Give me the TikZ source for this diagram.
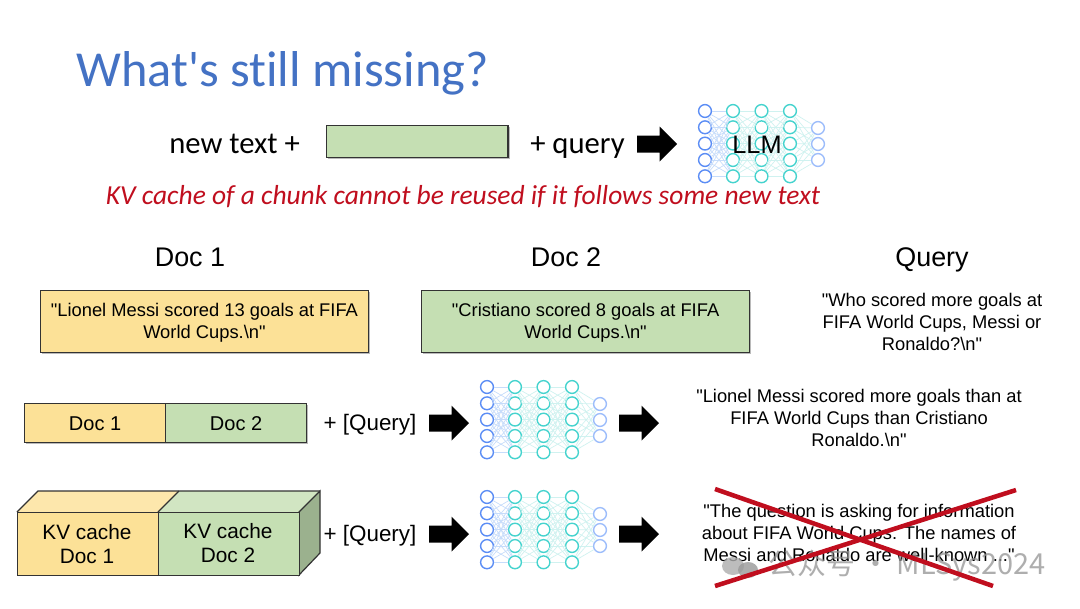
\documentclass[tikz,border=0pt]{standalone}
\usepackage{fontspec}
\setmainfont{Liberation Sans}[Ligatures=TeXOff]
\newfontfamily\carl{Carlito}[Ligatures=NoCommon]
\newfontfamily\cjkf{Noto Sans CJK SC}
\usetikzlibrary{shadows}
\definecolor{titleblue}{HTML}{4472C4}
\definecolor{docyellow}{HTML}{FCE197}
\definecolor{docgreen}{HTML}{C5DFB3}
\definecolor{sideg}{HTML}{9BB18E}
\definecolor{crossred}{HTML}{C00E1E}
\definecolor{nodeblue}{HTML}{5B8DF5}
\definecolor{nodeteal}{HTML}{45D3CE}
\definecolor{nodepale}{HTML}{9DBDFB}
\definecolor{edgeblue}{HTML}{C6DCFB}
\definecolor{edgeteal}{HTML}{CFF2F0}
\tikzset{
  x=0.75pt,y=-0.75pt,
  softshadow/.style={drop shadow={shadow xshift=1.2pt,shadow yshift=-1.2pt,fill=black!45,opacity=.6}},
  plainbox/.style={draw=black!80,line width=0.9pt,inner sep=0pt,anchor=north west},
  docbox/.style={plainbox,softshadow},
  txt/.style={inner sep=0pt,align=center,font=\fontsize{13.75}{16.6}\selectfont},
  txtb/.style={txt,font=\fontsize{15}{17.5}\selectfont},
  txtk/.style={txt,font=\fontsize{15.6}{17.5}\selectfont},
  txtq/.style={txt,font=\fontsize{16.8}{19}\selectfont},
  head/.style={inner sep=0pt,font=\fontsize{20.2}{23}\selectfont},
  carltext/.style={inner sep=0pt,anchor=base west,font=\carl\fontsize{23}{26}\selectfont},
  bigarrow/.style={fill=black,draw=none},
  nc/.style={circle,minimum size=9.6pt,inner sep=0pt,line width=1.05pt,draw=#1},
  nedge/.style={draw=#1,line width=0.5pt},
}
\newcommand{\nnet}[3]{%
  \foreach \c/\cx/\col in {a/0/nodeblue,b/28/nodeteal,c/56.5/nodeteal,d/85/nodeteal}{
    \foreach \r/\ry in {1/0,2/16.3,3/32.6,4/49,5/65.3}{
      \node[nc=\col] (#1\c\r) at (#2+\cx,#3+\ry) {};
    }
  }
  \foreach \r/\ry in {1/17,2/33,3/49}{
    \node[nc=nodepale] (#1e\r) at (#2+113,#3+\ry) {};
  }
  \foreach \p/\q/\col in {a/b/edgeblue,b/c/edgeteal,c/d/edgeteal}{
    \foreach \i in {1,...,5}{\foreach \j in {1,...,5}{
      \draw[nedge=\col] (#1\p\i) -- (#1\q\j);
    }}
  }
  \foreach \i in {1,...,5}{\foreach \j in {1,2,3}{
    \draw[nedge=edgeteal] (#1d\i) -- (#1e\j);
  }}
}
\newcommand{\barrow}[2]{%
  \fill[bigarrow] (#1,#2-8.5) -- (#1+22.5,#2-8.5) -- (#1+22.5,#2-17.5) -- (#1+40,#2) -- (#1+22.5,#2+17.5) -- (#1+22.5,#2+8.5) -- (#1,#2+8.5) -- cycle;
}
\begin{document}
\begin{tikzpicture}
\useasboundingbox (0,0) rectangle (1080,608);
\fill[white] (0,0) rectangle (1080,608);

\node[anchor=west,inner sep=0pt,text=titleblue,font=\carl\fontsize{37.8}{40}\selectfont] (title) at (76,73) {What's still missing?};

\node[carltext] (newtext) at (169,153.5) {new text +};
\node[docbox,fill=docgreen,minimum width=136pt,minimum height=24pt] (blank) at (326,125) {};
\node[carltext] (plusq) at (530,153.5) {+ query};
\barrow{637}{144}
\nnet{p}{705}{111}
\node[inner sep=0pt,font=\fontsize{19}{22}\selectfont] (llm) at (757,144.5) {LLM};
\node[inner sep=0pt,text=crossred,font=\carl\itshape\fontsize{20.6}{24}\selectfont] (warn) at (463,197) {KV cache of a chunk cannot be reused if it follows some new text};

\node[head] (h1) at (190,257) {Doc 1};
\node[head] (h2) at (566,257) {Doc 2};
\node[head] (h3) at (932,259.5) {Query};

\node[docbox,fill=docyellow,minimum width=246.5pt,minimum height=47pt] (d1) at (39.5,289.5) {};
\node[txt] (d1t) at ([yshift=-0.7pt]d1.center) {"Lionel Messi scored 13 goals at FIFA\\World Cups.\textbackslash n"};
\node[docbox,fill=docgreen,minimum width=246pt,minimum height=47pt] (d2) at (421,289.5) {};
\node[txt] (d2t) at ([yshift=-0.7pt]d2.center) {"Cristiano scored 8 goals at FIFA\\World Cups.\textbackslash n"};
\node[txt] (q) at (932,322) {"Who scored more goals at\\FIFA World Cups, Messi or\\Ronaldo?\textbackslash n"};

\node[docbox,fill=docyellow,minimum width=105.75pt,minimum height=29.25pt] (r1) at (24,403) {};
\node[docbox,fill=docgreen,minimum width=105.75pt,minimum height=29.25pt] (r2) at (165,403) {};
\node[txtb] (r1t) at ([yshift=-0.7pt]r1.center) {Doc 1};
\node[txtb] (r2t) at ([yshift=-0.7pt]r2.center) {Doc 2};
\node[txtq] (pq1) at (370,425) {+ [Query]};
\barrow{429}{423}
\nnet{m}{487}{387}
\barrow{619}{423}
\node[txt] (ans) at (859,418) {"Lionel Messi scored more goals than at\\FIFA World Cups than Cristiano\\Ronaldo.\textbackslash n"};

% 3-D KV cache bars
\coordinate (t1) at (17,512);
\coordinate (t2) at (158,512);
\coordinate (t3) at (299,512);
\coordinate (b3) at (299,575);
\coordinate (u1) at (38,491);
\coordinate (u2) at (179,491);
\coordinate (u3) at (320,491);
\coordinate (l3) at (320,553);
\fill[docyellow!80!white] (t1) -- (u1) -- (u2) -- (t2) -- cycle;
\fill[docgreen!80!white] (t2) -- (u2) -- (u3) -- (t3) -- cycle;
\filldraw[fill=sideg,draw=black!80,line width=0.9pt] (t3) -- (u3) -- (l3) -- (b3) -- cycle;
\draw[black!80,line width=0.9pt] (t1) -- (u1) -- (u3);
\draw[black!80,line width=0.9pt] (t2) -- (u2);
\node[plainbox,fill=docyellow,minimum width=105.75pt,minimum height=47.25pt] (k1) at (t1) {};
\node[plainbox,fill=docgreen,minimum width=105.75pt,minimum height=47.25pt] (k2) at (t2) {};
\node[txtk] (k1t) at (87,544) {KV cache\\Doc 1};
\node[txtk] (k2t) at (228,543) {KV cache\\Doc 2};
\node[txtq] (pq2) at (370,536) {+ [Query]};
\barrow{429}{534}
\nnet{n}{487}{497}
\barrow{619}{534}
\node[txt] (bad) at (859,533) {"The question is asking for information\\about FIFA World Cups. The names of\\Messi and Ronaldo are well-known ..."};

% watermark
\fill[black!32,opacity=.8] (733,566) ellipse (11 and 9);
\fill[black!40,opacity=.8] (748,570) ellipse (10 and 8);
\node[inner sep=0pt,anchor=west,text=black!42,opacity=.75,font=\cjkf\fontsize{21.7}{24}\selectfont] (wm) at (768,566) {公众号 · MLSys2024};

% cross
\coordinate (x1) at (715,489);
\coordinate (x2) at (993,586);
\coordinate (x3) at (1016,490);
\coordinate (x4) at (715,586);
\draw[crossred,line width=3.4pt] (x1) -- (x2);
\draw[crossred,line width=3.4pt] (x3) -- (x4);
\end{tikzpicture}
\end{document}
